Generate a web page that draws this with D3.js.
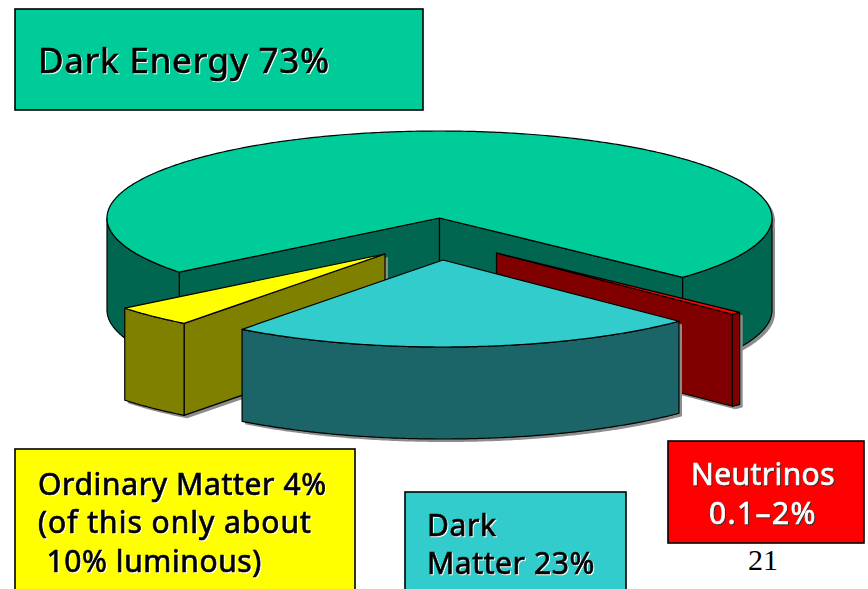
<!DOCTYPE html>
<html>
<head>
<meta charset="utf-8">
<script src="https://cdn.jsdelivr.net/npm/d3@7"></script>
<style>
  html, body { margin: 0; padding: 0; background: #fff; }
  svg { display: block; }
</style>
</head>
<body>
<svg id="chart" width="868" height="589"></svg>
<script>
// Composition of the universe, as percentages. Neutrinos span a quoted range;
// the wedge takes a width inside that range.
const components = ["Neutrinos", "Dark Matter", "Ordinary Matter", "Dark Energy"];
const shares = [0.5, 23, 4, 73];
const topColors = ["#ff0000", "#33cccc", "#ffff00", "#00cc99"];
const sideColors = ["#800000", "#1b6568", "#808000", "#00664f"];
const explodeX = [57, 3.5, -54.5, 0];
const explodeY = [35, 42, 36, 0];
const drawOrder = [3, 0, 2, 1];

const width = 868, height = 589;
const centerX = 439.5, centerY = 218, radiusX = 332.5, radiusY = 87, depth = 92;
const shadowShift = 3;
const firstAngle = 133 * Math.PI / 180;

const svg = d3.select("#chart");
const x = d3.scaleLinear().domain([-1, 1]).range([centerX - radiusX, centerX + radiusX]);
const y = d3.scaleLinear().domain([-1, 1]).range([centerY - radiusY, centerY + radiusY]);

const pie = d3.pie().sort(null).value(d => d)
  .startAngle(firstAngle).endAngle(firstAngle + 2 * Math.PI);
const slices = pie(shares);

const line = d3.line();
const rim = a => [x(Math.sin(a)), y(-Math.cos(a))];
const hub = [x(0), y(0)];
const down = p => [p[0], p[1] + depth];

function sweep(a0, a1) {
  const n = Math.max(2, Math.ceil(Math.abs(a1 - a0) / 0.01));
  return d3.range(n + 1).map(i => a0 + (a1 - a0) * i / n);
}

// Stretches of a slice's rim that face the viewer (lower half of the ellipse).
function frontArcs(a0, a1) {
  const arcs = [];
  for (let k = -1; k <= 2; k++) {
    const lo = Math.max(a0, Math.PI / 2 + 2 * Math.PI * k);
    const hi = Math.min(a1, 3 * Math.PI / 2 + 2 * Math.PI * k);
    if (hi > lo) arcs.push(sweep(lo, hi));
  }
  return arcs;
}

function sliceParts(s) {
  const topFace = [hub, ...sweep(s.startAngle, s.endAngle).map(rim)];
  const walls = [];
  // A cut face shows only if its outward normal points at the viewer.
  if (Math.cos(s.startAngle - Math.PI / 2) < 0) {
    const p = rim(s.startAngle);
    walls.push([hub, p, down(p), down(hub)]);
  }
  if (Math.cos(s.endAngle + Math.PI / 2) < 0) {
    const p = rim(s.endAngle);
    walls.push([hub, p, down(p), down(hub)]);
  }
  frontArcs(s.startAngle, s.endAngle).forEach(arc => {
    const upper = arc.map(rim);
    walls.push([...upper, ...upper.slice().reverse().map(down)]);
  });
  return { topFace, walls };
}

drawOrder.forEach(i => {
  const { topFace, walls } = sliceParts(slices[i]);
  const g = svg.append("g")
    .attr("class", "slice")
    .attr("transform", `translate(${explodeX[i]},${explodeY[i]})`);

  const shadow = g.append("g").attr("transform", `translate(${shadowShift},${shadowShift})`);
  shadow.selectAll("path").data([topFace, ...walls]).join("path")
    .attr("d", d => line(d) + "Z")
    .attr("fill", "#8c8c8c");

  g.append("g").selectAll("path").data(walls).join("path")
    .attr("d", d => line(d) + "Z")
    .attr("fill", sideColors[i])
    .attr("stroke", "#000")
    .attr("stroke-width", 1.2)
    .attr("stroke-linejoin", "round");

  g.append("path")
    .attr("d", line(topFace) + "Z")
    .attr("fill", topColors[i])
    .attr("stroke", "#000")
    .attr("stroke-width", 1.2)
    .attr("stroke-linejoin", "round");
});

// Legend boxes
const boxLefts = [15, 15, 405, 668];
const boxTops = [9, 449, 492, 441];
const boxWidths = [408, 340, 221, 196];
const boxHeights = [101, 160, 120, 102];
const boxFills = [topColors[3], topColors[2], topColors[1], topColors[0]];

svg.selectAll("rect.box").data(boxFills).join("rect")
  .attr("class", "box")
  .attr("x", (d, i) => boxLefts[i])
  .attr("y", (d, i) => boxTops[i])
  .attr("width", (d, i) => boxWidths[i])
  .attr("height", (d, i) => boxHeights[i])
  .attr("fill", d => d)
  .attr("stroke", "#000")
  .attr("stroke-width", 1.6);

// Legend captions
const captionLines = [
  "Dark Energy 73%",
  "Ordinary Matter 4%", "(of this only about", " 10% luminous)",
  "Dark", "Matter 23%",
  "Neutrinos", "0.1\u20132%"
];
const captionX = [38, 38, 38, 38, 427, 427, 763, 763];
const captionY = [73, 495, 533, 572, 536, 574, 485, 524];
const captionSize = [35, 30, 30, 30, 30, 30, 30, 30];
const captionSpacing = [0.8, 0.65, 1, 0.6, 0.6, 0.6, 0.4, 1.4];
const captionFill = ["#000", "#000", "#000", "#000", "#000", "#000", "#fff", "#fff"];
const captionAnchor = ["start", "start", "start", "start", "start", "start", "middle", "middle"];

svg.selectAll("text.caption").data(captionLines).join("text")
  .attr("class", "caption")
  .attr("x", (d, i) => captionX[i])
  .attr("y", (d, i) => captionY[i])
  .attr("font-family", "'Noto Sans', sans-serif")
  .attr("font-size", (d, i) => captionSize[i])
  .attr("letter-spacing", (d, i) => captionSpacing[i])
  .attr("text-anchor", (d, i) => captionAnchor[i])
  .attr("fill", (d, i) => captionFill[i])
  .attr("stroke", (d, i) => captionFill[i])
  .attr("stroke-width", 0.7)
  .style("white-space", "pre")
  .style("filter", (d, i) => captionFill[i] === "#fff"
    ? "drop-shadow(1px 1px 0 #333)"
    : "drop-shadow(1px 1px 0 #fff)")
  .text(d => d);

// Slide number
svg.append("text")
  .attr("x", 763).attr("y", 570)
  .attr("text-anchor", "middle")
  .attr("font-family", "'Liberation Serif', serif")
  .attr("font-size", 30)
  .attr("fill", "#000")
  .text("21");
</script>
</body>
</html>
